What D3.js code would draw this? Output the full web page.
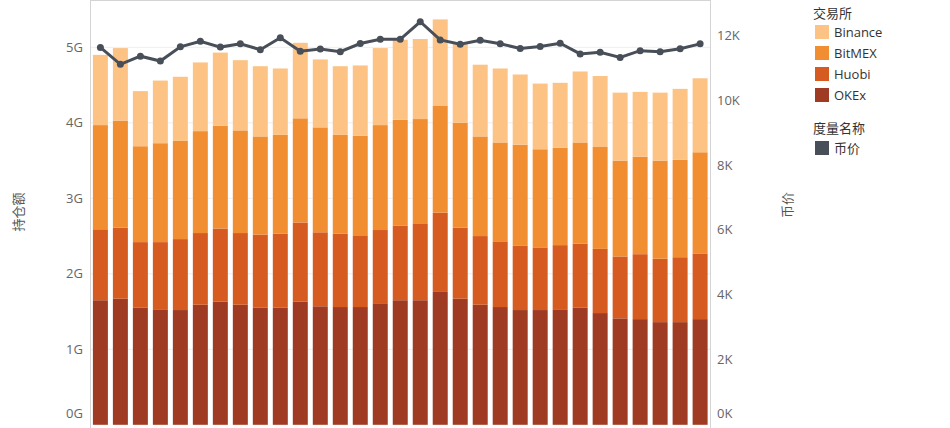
<!DOCTYPE html>
<html><head><meta charset="utf-8">
<script src="https://cdn.jsdelivr.net/npm/d3@7"></script>
<style>body{margin:0;background:#fff;font-family:"Noto Sans CJK SC","Open Sans",sans-serif;}</style>
</head><body><svg id="c" width="950" height="428"></svg>
<script>
const categories = d3.range(1,32).map(String);
const okex    = [1.65,1.67,1.55,1.53,1.52,1.59,1.63,1.59,1.55,1.55,1.63,1.57,1.56,1.56,1.61,1.65,1.65,1.76,1.67,1.59,1.56,1.52,1.52,1.53,1.55,1.48,1.41,1.40,1.36,1.36,1.40];
const huobi   = [0.94,0.94,0.87,0.89,0.94,0.95,0.97,0.95,0.97,0.98,1.05,0.98,0.97,0.95,0.97,0.99,1.01,1.05,0.94,0.91,0.87,0.85,0.83,0.85,0.85,0.85,0.82,0.86,0.84,0.86,0.87];
const bitmex  = [1.38,1.42,1.27,1.31,1.30,1.35,1.36,1.36,1.30,1.31,1.38,1.39,1.31,1.32,1.39,1.40,1.39,1.42,1.39,1.32,1.31,1.34,1.30,1.29,1.34,1.35,1.27,1.29,1.30,1.29,1.34];
const binance = [0.93,0.96,0.73,0.83,0.85,0.91,0.97,0.93,0.93,0.88,1.00,0.90,0.91,0.93,1.02,1.06,1.06,1.14,1.07,0.95,0.98,0.93,0.87,0.86,0.94,0.94,0.90,0.86,0.90,0.94,0.98];
const price   = [11.62,11.10,11.35,11.20,11.64,11.81,11.63,11.73,11.55,11.92,11.50,11.57,11.49,11.74,11.87,11.87,12.41,11.85,11.72,11.84,11.73,11.59,11.65,11.75,11.42,11.47,11.31,11.52,11.49,11.58,11.73];
const leftTicks = [0,1,2,3,4,5];
const rightTicks = [0,2,4,6,8,10,12];
const seriesNames = ["OKEx","Huobi","BitMEX","Binance"];
const colors = {Binance:"#fdc385",BitMEX:"#f28e32",Huobi:"#d65b21",OKEx:"#9e3b22"};
const lineColor = "#484f59";

const svg = d3.select("#c");
const L=90.5, R=710, T=0, B=424.8;
const x = d3.scaleBand().domain(categories).range([L,R]).paddingInner(0.25).paddingOuter(0.12);
const y = d3.scaleLinear().domain([0,5.627]).range([B,T]);
const y2 = d3.scaleLinear().domain([0,13.08]).range([B,T]);

svg.append("line").attr("x1",L).attr("x2",R).attr("y1",0.5).attr("y2",0.5).attr("stroke","#d4d4d4");
svg.append("g").selectAll("line").data(leftTicks.slice(1)).join("line")
 .attr("x1",L).attr("x2",R).attr("y1",d=>y(d)).attr("y2",d=>y(d)).attr("stroke","#efefef");

const rows = categories.map((c,i)=>({c,OKEx:okex[i],Huobi:huobi[i],BitMEX:bitmex[i],Binance:binance[i]}));
const stack = d3.stack().keys(seriesNames)(rows);
svg.append("g").selectAll("g").data(stack).join("g").attr("fill",d=>colors[d.key])
 .selectAll("rect").data(d=>d).join("rect")
 .attr("x",d=>x(d.data.c)).attr("width",x.bandwidth())
 .attr("y",d=>y(d[1])).attr("height",d=>y(d[0])-y(d[1]));

const line = d3.line().x((d,i)=>x(categories[i])+x.bandwidth()/2).y(d=>y2(d));
svg.append("path").datum(price).attr("d",line).attr("fill","none").attr("stroke",lineColor).attr("stroke-width",3);
svg.append("g").selectAll("circle").data(price).join("circle")
 .attr("cx",(d,i)=>x(categories[i])+x.bandwidth()/2).attr("cy",d=>y2(d)).attr("r",3.5).attr("fill",lineColor);

svg.append("line").attr("x1",L).attr("x2",L).attr("y1",0).attr("y2",428).attr("stroke","#d4d4d4");
svg.append("line").attr("x1",R+0.5).attr("x2",R+0.5).attr("y1",0).attr("y2",428).attr("stroke","#d4d4d4");

const tf = {fill:"#666","font-size":"13px","font-family":"Open Sans, sans-serif"};
svg.append("g").selectAll("text").data(leftTicks).join("text")
 .attr("x",83).attr("y",d=>Math.min(y(d),413)).attr("dy","0.35em").attr("text-anchor","end")
 .attr("fill",tf.fill).attr("font-size",tf["font-size"]).attr("font-family",tf["font-family"]).text(d=>d+"G");
svg.append("g").selectAll("text").data(rightTicks).join("text")
 .attr("x",717).attr("y",d=>Math.min(y2(d),413)).attr("dy","0.35em")
 .attr("fill",tf.fill).attr("font-size",tf["font-size"]).attr("font-family",tf["font-family"]).text(d=>d+"K");

svg.append("text").attr("transform","translate(18,212) rotate(-90)").attr("text-anchor","middle").attr("dy","0.35em")
 .attr("fill","#555").attr("font-size","13px").text("持仓额");
svg.append("text").attr("transform","translate(787,205) rotate(-90)").attr("text-anchor","middle").attr("dy","0.35em")
 .attr("fill","#555").attr("font-size","13px").text("币价");

const lg = svg.append("g").attr("font-size","13px").attr("fill","#333");
lg.append("text").attr("x",813).attr("y",13).attr("dy","0.35em").attr("fill","#333").text("交易所");
const legItems=["Binance","BitMEX","Huobi","OKEx"];
legItems.forEach((k,i)=>{
  const yy=32+i*21;
  lg.append("rect").attr("x",815).attr("y",yy-7).attr("width",14).attr("height",14).attr("fill",colors[k]);
  lg.append("text").attr("x",834).attr("y",yy).attr("dy","0.35em").attr("fill","#333").attr("font-family","Open Sans, sans-serif").text(k);
});
lg.append("text").attr("x",813).attr("y",128).attr("dy","0.35em").attr("fill","#333").text("度量名称");
lg.append("rect").attr("x",815).attr("y",141).attr("width",14).attr("height",14).attr("fill",lineColor);
lg.append("text").attr("x",834).attr("y",148).attr("dy","0.35em").attr("fill","#333").text("币价");
</script></body></html>
